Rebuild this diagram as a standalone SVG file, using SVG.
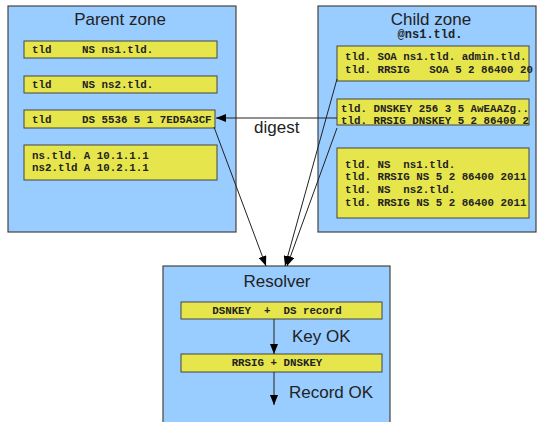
<svg xmlns="http://www.w3.org/2000/svg" width="540" height="422" viewBox="0 0 540 422">
<style>
.zone{fill:#99ccff;stroke:#444;stroke-width:1.2}
.rec{fill:#e6e64c;stroke:#444;stroke-width:1}
.title{font-family:"Liberation Sans",Arial,sans-serif;font-size:17px;fill:#222}
.mono{font-family:"Liberation Mono","Courier New",monospace;font-weight:bold;font-size:10.8px;fill:#222}
.conn{stroke:#222;stroke-width:1;fill:none}
</style>
<defs>
<marker id="ah" viewBox="0 0 10 8" refX="10" refY="4" markerWidth="10" markerHeight="8" markerUnits="userSpaceOnUse" orient="auto">
<path d="M0,0 L10,4 L0,8 z" fill="#000"/>
</marker>
</defs>
<rect width="540" height="422" fill="#fff"/>
<g id="parent-zone">
<rect class="zone" x="8" y="6" width="228" height="226"/>
<text class="title" x="120" y="25" text-anchor="middle">Parent zone</text>
<g id="p-ns1"><rect class="rec" x="24" y="41" width="193" height="17"/>
<text class="mono" x="32" y="53">tld</text><text class="mono" x="82" y="53">NS ns1.tld.</text></g>
<g id="p-ns2"><rect class="rec" x="24" y="76" width="193" height="17"/>
<text class="mono" x="32" y="88">tld</text><text class="mono" x="82" y="88">NS ns2.tld.</text></g>
<g id="p-ds"><rect class="rec" x="24" y="110" width="191" height="18"/>
<text class="mono" x="32" y="123">tld</text><text class="mono" x="82" y="123">DS 5536 5 1 7ED5A3CF</text></g>
<g id="p-a"><rect class="rec" x="24" y="145" width="193" height="35"/>
<text class="mono" x="32" y="159">ns.tld. A 10.1.1.1</text>
<text class="mono" x="32" y="171">ns2.tld A 10.2.1.1</text></g>
</g>
<g id="child-zone">
<rect class="zone" x="318" y="6" width="218" height="226"/>
<text class="title" x="431" y="25" text-anchor="middle">Child zone</text>
<text class="mono" x="430" y="38" text-anchor="middle" style="font-size:12px">@ns1.tld.</text>
<g id="c-soa"><rect class="rec" x="337" y="46" width="192" height="35"/>
<text class="mono" x="345" y="60">tld. SOA ns1.tld. admin.tld.</text>
<text class="mono" x="345" y="73" xml:space="preserve">tld. RRSIG   SOA 5 2 86400 20</text></g>
<g id="c-dnskey"><rect class="rec" x="337" y="99" width="192" height="26"/>
<text class="mono" x="341" y="112">tld. DNSKEY 256 3 5 AwEAAZg..</text>
<text class="mono" x="341" y="124">tld. RRSIG DNSKEY 5 2 86400 2</text></g>
<g id="c-ns"><rect class="rec" x="337" y="148" width="192" height="70"/>
<text class="mono" x="345" y="168" xml:space="preserve">tld. NS  ns1.tld.</text>
<text class="mono" x="345" y="180">tld. RRSIG NS 5 2 86400 2011</text>
<text class="mono" x="345" y="193" xml:space="preserve">tld. NS  ns2.tld.</text>
<text class="mono" x="345" y="206">tld. RRSIG NS 5 2 86400 2011</text></g>
</g>
<g id="resolver">
<rect class="zone" x="163" y="266" width="227" height="170"/>
<text class="title" x="277" y="287" text-anchor="middle">Resolver</text>
<g id="r-ds"><rect class="rec" x="181" y="302" width="201" height="17"/>
<text class="mono" x="277" y="314" text-anchor="middle" xml:space="preserve">DSNKEY  +  DS record</text></g>
<g id="r-rrsig"><rect class="rec" x="181" y="354" width="201" height="18"/>
<text class="mono" x="277" y="366" text-anchor="middle">RRSIG + DNSKEY</text></g>
<text class="title" x="292" y="342">Key OK</text>
<text class="title" x="289" y="398">Record OK</text>
</g>
<g id="connectors">
<line class="conn" x1="337" y1="118" x2="216" y2="118" marker-end="url(#ah)"/>
<text class="title" x="254" y="133">digest</text>
<line class="conn" x1="214" y1="127" x2="266" y2="266" marker-end="url(#ah)"/>
<line class="conn" x1="337" y1="79" x2="285" y2="266" marker-end="url(#ah)"/>
<line class="conn" x1="337" y1="128" x2="287" y2="266" marker-end="url(#ah)"/>
<line class="conn" x1="274" y1="319" x2="274" y2="354" marker-end="url(#ah)"/>
<line class="conn" x1="274" y1="372" x2="274" y2="405" marker-end="url(#ah)"/>
</g>
</svg>
